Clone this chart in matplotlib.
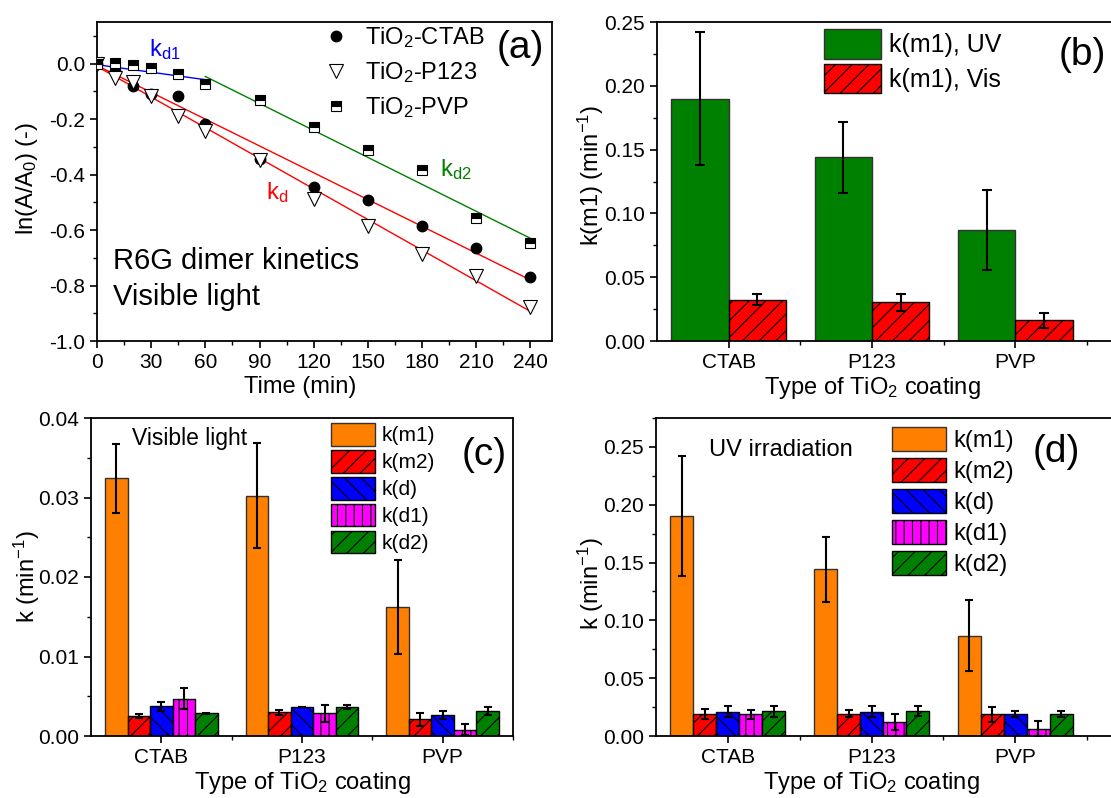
import numpy as np
import matplotlib
matplotlib.use("Agg")
import matplotlib.pyplot as plt
from matplotlib.ticker import MultipleLocator

plt.rcParams['font.family'] = ['Liberation Sans', 'DejaVu Sans']
plt.rcParams['mathtext.fontset'] = 'custom'
plt.rcParams['mathtext.rm'] = 'Liberation Sans'
plt.rcParams['mathtext.default'] = 'regular'
plt.rcParams['hatch.linewidth'] = 0.8
plt.rcParams['axes.linewidth'] = 1.3

# (a) kinetics data
t_min = [0, 10, 20, 30, 45, 60, 90, 120, 150, 180, 210, 240]
ln_ctab = [0.0, -0.025, -0.079, -0.108, -0.118, -0.219, -0.345, -0.445, -0.491, -0.587, -0.664, -0.768]
ln_p123 = [0.0, -0.052, -0.066, -0.118, -0.188, -0.244, -0.347, -0.489, -0.585, -0.687, -0.765, -0.878]
ln_pvp = [0.0, 0.002, -0.006, -0.016, -0.036, -0.073, -0.130, -0.230, -0.313, -0.385, -0.557, -0.647]

# linear fits: (t_start, t_end, slope, intercept)
fit_kd_ctab = (0, 240, -0.00322, -0.007)
fit_kd_p123 = (0, 240, -0.00368, -0.010)
fit_kd1_pvp = (0, 60, -0.0009, -0.004)
fit_kd2_pvp = (60, 240, -0.00324, 0.148)

coatings = ['CTAB', 'P123', 'PVP']

# (b) k(m1) UV vs Vis
km1_uv = [0.190, 0.144, 0.087]
km1_uv_err = [0.052, 0.028, 0.031]
km1_vis = [0.0324, 0.0302, 0.0162]
km1_vis_err = [0.0043, 0.0066, 0.0059]

# (c) visible light
series_names = ['k(m1)', 'k(m2)', 'k(d)', 'k(d1)', 'k(d2)']
vis_vals = [[0.0324, 0.0302, 0.0162],
            [0.00255, 0.00297, 0.0021],
            [0.00373, 0.00364, 0.00268],
            [0.00469, 0.00285, 0.0008],
            [0.00285, 0.00368, 0.00314]]
vis_errs = [[0.0043, 0.0066, 0.0059],
            [0.00025, 0.00035, 0.0008],
            [0.00055, 0.00005, 0.0005],
            [0.0013, 0.00105, 0.00065],
            [0.00005, 0.00025, 0.0005]]

# (d) UV irradiation
uv_vals = [[0.190, 0.144, 0.0868],
           [0.0190, 0.0193, 0.0187],
           [0.0210, 0.0210, 0.0190],
           [0.0187, 0.0118, 0.0063],
           [0.0213, 0.0216, 0.0190]]
uv_errs = [[0.052, 0.028, 0.031],
           [0.0042, 0.0032, 0.0062],
           [0.0046, 0.0046, 0.0030],
           [0.0042, 0.0070, 0.0066],
           [0.0047, 0.0043, 0.0030]]

bar_colors = ['#FF8000', '#FF0000', '#0000FF', '#FF00FF', '#008000']
bar_hatches = [None, '//', '\\\\', '||', '//']

W, H = 1111, 798
fig = plt.figure(figsize=(W / 100, H / 100), dpi=100)


def px_axes(l, t, r, b):
    return fig.add_axes([l / W, 1 - b / H, (r - l) / W, (b - t) / H])


def style_axes(ax):
    ax.tick_params(which='both', direction='out', top=False, right=False, labelsize=15)
    ax.tick_params(which='major', length=5, width=1.2)
    ax.tick_params(which='minor', length=3, width=1.0)


# ---------- (a) ----------
ax = px_axes(97, 22, 552, 341)
t_arr = np.array(t_min)
for fit, col in [(fit_kd_ctab, 'red'), (fit_kd_p123, 'red'), (fit_kd1_pvp, 'blue'), (fit_kd2_pvp, 'green')]:
    tt = np.array([fit[0], fit[1]])
    ax.plot(tt, fit[2] * tt + fit[3], color=col, lw=1, zorder=1)
ax.plot(t_arr, ln_ctab, 'o', color='black', ms=7.5, ls='none', label='TiO$_2$-CTAB', zorder=3)
ax.plot(t_arr, ln_p123, 'v', mfc='white', mec='black', mew=0.8, ms=9.5, ls='none', label='TiO$_2$-P123', zorder=4)
ax.plot(t_arr, ln_pvp, 's', color='black', fillstyle='top', mfc='black', mfcalt='white', mec='black',
        mew=0.8, ms=7.5, ls='none', label='TiO$_2$-PVP', zorder=5)
ax.set_xlim(0, 252)
ax.set_ylim(-1.0, 0.15)
ax.xaxis.set_major_locator(MultipleLocator(30))
ax.xaxis.set_minor_locator(MultipleLocator(15))
ax.yaxis.set_major_locator(MultipleLocator(0.2))
ax.yaxis.set_minor_locator(MultipleLocator(0.1))
ax.yaxis.set_major_formatter(plt.FormatStrFormatter('%.1f'))
style_axes(ax)
ax.set_xlabel('Time (min)', fontsize=17, labelpad=3)
ax.xaxis.label.set_x((300 - 97) / 455)
ax.set_ylabel('ln(A/A$_0$) (-)', fontsize=17)
ax.yaxis.set_label_coords(-0.125, 0.51)
ax.text(37.5, 0.05, 'k$_{d1}$', color='blue', fontsize=17, ha='center', va='center')
ax.text(99.5, -0.466, 'k$_{d}$', color='red', fontsize=17, ha='center', va='center')
ax.text(198.6, -0.383, 'k$_{d2}$', color='green', fontsize=17, ha='center', va='center')
ax.text(8.8, -0.711, 'R6G dimer kinetics', fontsize=21, ha='left', va='center')
ax.text(8.8, -0.84, 'Visible light', fontsize=21, ha='left', va='center')
ax.text(0.93, 0.918, '(a)', transform=ax.transAxes, fontsize=28, ha='center', va='center')
ax.legend(loc='upper left', bbox_to_anchor=(0.50, 0.99), frameon=False, fontsize=17,
          handlelength=1.0, handletextpad=0.7, labelspacing=0.43, borderpad=0, borderaxespad=0)

x = np.arange(len(coatings))

# ---------- (b) ----------
ax = px_axes(657, 22, 1113, 341)
ek = dict(ecolor='black', elinewidth=1.5, capsize=3.5, capthick=1.5)
ax.bar(x - 0.2, km1_uv, 0.4, color='#008000', edgecolor='#333333', lw=1, label='k(m1), UV')
ax.bar(x + 0.2, km1_vis, 0.4, color='#FF0000', edgecolor='black', lw=1, hatch='//', label='k(m1), Vis')
ax.errorbar(x - 0.2, km1_uv, yerr=km1_uv_err, fmt='none', **ek)
ax.errorbar(x + 0.2, km1_vis, yerr=km1_vis_err, fmt='none', **ek)
ax.set_xlim(-0.5, 2.68)
ax.set_ylim(0, 0.25)
ax.set_xticks(x)
ax.set_xticklabels(coatings)
ax.set_xticks([0.5, 1.5, 2.5], minor=True)
ax.yaxis.set_major_locator(MultipleLocator(0.05))
ax.yaxis.set_minor_locator(MultipleLocator(0.025))
ax.yaxis.set_major_formatter(plt.FormatStrFormatter('%.2f'))
style_axes(ax)
ax.set_xlabel('Type of TiO$_2$ coating', fontsize=17, labelpad=2)
ax.xaxis.label.set_x(1.5 / 3.18)
ax.set_ylabel('k(m1) (min$^{-1}$)', fontsize=17)
ax.yaxis.set_label_coords(-0.111, 0.52)
ax.text(0.932, 0.897, '(b)', transform=ax.transAxes, fontsize=28, ha='center', va='center')
ax.legend(loc='upper left', bbox_to_anchor=(0.366, 0.978), frameon=False, fontsize=18,
          handlelength=2.28, handleheight=1.45, handletextpad=0.32, labelspacing=0.2,
          borderpad=0, borderaxespad=0)


def grouped(ax, vals, errs, capsize):
    for i in range(len(series_names)):
        off = (i - 2) * 0.16
        ax.bar(x + off, vals[i], 0.16, color=bar_colors[i], edgecolor='black' if i else '#333333',
               lw=1, hatch=bar_hatches[i], label=series_names[i])
        ax.errorbar(x + off, vals[i], yerr=errs[i], fmt='none', ecolor='black',
                    elinewidth=1.5, capsize=capsize, capthick=1.5)
    ax.set_xticks(x)
    ax.set_xticklabels(coatings)
    ax.set_xticks([0.5, 1.5, 2.5], minor=True)
    style_axes(ax)
    ax.set_xlabel('Type of TiO$_2$ coating', fontsize=17, labelpad=2)
    ax.set_ylabel('k (min$^{-1}$)', fontsize=17)


# ---------- (c) ----------
ax = px_axes(91, 418, 513, 736)
grouped(ax, vis_vals, vis_errs, 2.7)
ax.yaxis.set_label_coords(-0.116, 0.5)
ax.set_xlim(-0.5, 2.5)
ax.set_ylim(0, 0.04)
ax.yaxis.set_major_locator(MultipleLocator(0.01))
ax.yaxis.set_minor_locator(MultipleLocator(0.005))
ax.yaxis.set_major_formatter(plt.FormatStrFormatter('%.2f'))
ax.text(-0.208, 0.0374, 'Visible light', fontsize=16.5, ha='left', va='center')
ax.text(0.931, 0.884, '(c)', transform=ax.transAxes, fontsize=28, ha='center', va='center')
ax.legend(loc='upper left', bbox_to_anchor=(0.569, 0.984), frameon=False, fontsize=15,
          handlelength=2.1, handleheight=1.3, handletextpad=0.32, labelspacing=0.2,
          borderpad=0, borderaxespad=0)

# ---------- (d) ----------
ax = px_axes(656, 418, 1113, 736)
grouped(ax, uv_vals, uv_errs, 2.7)
ax.yaxis.set_label_coords(-0.109, 0.48)
ax.set_xlim(-0.5, 2.68)
ax.set_ylim(0, 0.275)
ax.xaxis.label.set_x(1.5 / 3.18)
ax.yaxis.set_major_locator(MultipleLocator(0.05))
ax.yaxis.set_minor_locator(MultipleLocator(0.025))
ax.yaxis.set_major_formatter(plt.FormatStrFormatter('%.2f'))
ax.text(-0.131, 0.2474, 'UV irradiation', fontsize=17, ha='left', va='center')
ax.text(0.877, 0.894, '(d)', transform=ax.transAxes, fontsize=28, ha='center', va='center')
ax.legend(loc='upper left', bbox_to_anchor=(0.516, 0.972), frameon=False, fontsize=17,
          handlelength=2.29, handleheight=1.2, handletextpad=0.3, labelspacing=0.25,
          borderpad=0, borderaxespad=0)

fig.savefig('out.png', dpi=100)
